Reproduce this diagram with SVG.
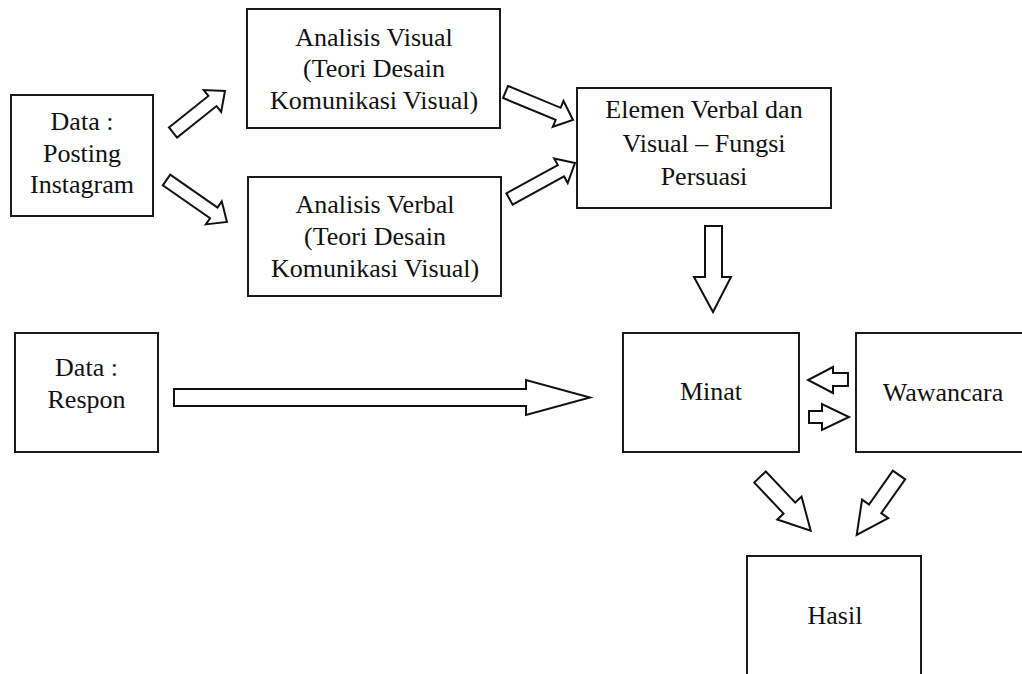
<svg xmlns="http://www.w3.org/2000/svg" width="1022" height="674" viewBox="0 0 1022 674">
<style>
.box{fill:#fff;stroke:#1a1a1a;stroke-width:2}
.arr{fill:#fff;stroke:#111;stroke-width:2;stroke-linejoin:miter}
text{font-family:"Liberation Serif","Times New Roman",serif;font-size:26px;fill:#111;text-anchor:middle}
</style>
<rect width="1022" height="674" fill="#fff"/>
<g id="n-posting">
<rect class="box" x="11" y="95" width="142" height="121"/>
<text x="82" y="130">Data :</text>
<text x="82" y="162">Posting</text>
<text x="82" y="193">Instagram</text>
</g>
<g id="n-visual">
<rect class="box" x="247" y="9" width="253" height="119"/>
<text x="374" y="46">Analisis Visual</text>
<text x="374" y="77">(Teori Desain</text>
<text x="374" y="109">Komunikasi Visual)</text>
</g>
<g id="n-verbal">
<rect class="box" x="248" y="177" width="253" height="119"/>
<text x="375" y="213">Analisis Verbal</text>
<text x="375" y="245">(Teori Desain</text>
<text x="375" y="277">Komunikasi Visual)</text>
</g>
<g id="n-elemen">
<rect class="box" x="577" y="88" width="254" height="120"/>
<text x="704" y="118">Elemen Verbal dan</text>
<text x="704" y="152">Visual – Fungsi</text>
<text x="704" y="185">Persuasi</text>
</g>
<g id="n-respon">
<rect class="box" x="15" y="333" width="143" height="119"/>
<text x="86.5" y="376">Data :</text>
<text x="86.5" y="408">Respon</text>
</g>
<g id="n-minat">
<rect class="box" x="623" y="333" width="176" height="119"/>
<text x="711" y="400">Minat</text>
</g>
<g id="n-wawancara">
<rect class="box" x="856" y="333" width="176" height="119"/>
<text x="943" y="401">Wawancara</text>
</g>
<g id="n-hasil">
<rect class="box" x="747" y="556" width="174" height="130"/>
<text x="835" y="624">Hasil</text>
</g>
<g id="connectors">
<path class="arr" transform="translate(173,132.5) rotate(-38.6)" d="M0,-6.5 H50.5 V-14 L66.5,0 L50.5,14 V6.5 H0 Z"/>
<path class="arr" transform="translate(166.5,180) rotate(34.8)" d="M0,-6.5 H57.6 V-14 L73.6,0 L57.6,14 V6.5 H0 Z"/>
<path class="arr" transform="translate(505.5,92) rotate(22.5)" d="M0,-6.5 H57 V-14 L73,0 L57,14 V6.5 H0 Z"/>
<path class="arr" transform="translate(509.5,199) rotate(-28.8)" d="M0,-6.5 H58.7 V-14 L74.7,0 L58.7,14 V6.5 H0 Z"/>
<path class="arr" d="M705,226 H722 V277 H731 L713,312 L694,277 H705 Z"/>
<path class="arr" d="M174,389 H526 V380 L590,397.5 L526,415 V406 H174 Z"/>
<path class="arr" d="M848,373 V386 H833 V393 L808,380 L833,367 V373 Z"/>
<path class="arr" d="M809,411 H822 V404 L849,417 L822,430 V423 H809 Z"/>
<path class="arr" transform="translate(760,477) rotate(46.6)" d="M0,-8 H42.8 V-16.7 L73.8,0 L42.8,16.7 V8 H0 Z"/>
<path class="arr" transform="translate(899,475) rotate(125.2)" d="M0,-7.5 H41.4 V-16 L73.4,0 L41.4,16 V7.5 H0 Z"/>
</g>
</svg>
